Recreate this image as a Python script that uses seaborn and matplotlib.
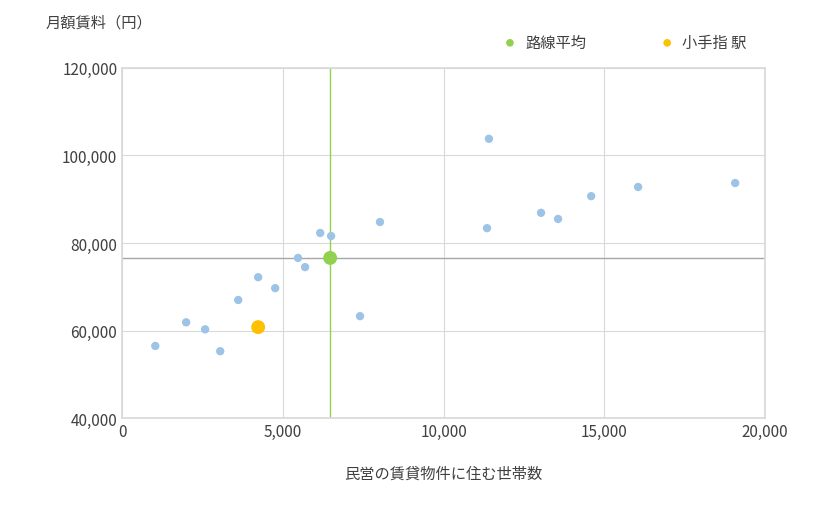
import matplotlib
matplotlib.use("Agg")
import matplotlib.pyplot as plt
import seaborn as sns
import pandas as pd

sns.set_theme(style="white")
plt.rcParams['font.family'] = ['Noto Sans CJK JP', 'DejaVu Sans']

households = [1030, 1990, 2580, 3050, 3610, 4230, 4760, 5470, 5690, 6160, 6500,
              7400, 8020, 11350, 11410, 13030, 13560, 14590, 16050, 19070]
rent = [56500, 61900, 60300, 55300, 67000, 72200, 69700, 76600, 74500, 82300, 81600,
        63300, 84800, 83400, 103800, 86900, 85500, 90700, 92800, 93700]
avg_x, avg_y = [6470], [76600]
sta_x, sta_y = [4230], [60800]

df = pd.DataFrame({"x": households, "y": rent})

fig = plt.figure(figsize=(8.2, 5.1), dpi=100)
ax = fig.add_axes([0.149, 0.178, 0.784, 0.687])
ax.axvline(avg_x[0], color="#92d050", lw=1, zorder=1)
ax.axhline(avg_y[0], color="#a6a6a6", lw=1, zorder=1)
sns.scatterplot(data=df, x="x", y="y", ax=ax, color="#9dc3e6", s=36, edgecolor="none", zorder=3)
ax.scatter(avg_x, avg_y, color="#92d050", s=100, edgecolor="none", zorder=4, label="路線平均")
ax.scatter(sta_x, sta_y, color="#ffc000", s=100, edgecolor="none", zorder=4, label="小手指 駅")

ax.set_xlim(0, 20000)
ax.set_ylim(40000, 120000)
ax.set_xticks(range(0, 20001, 5000))
ax.set_yticks(range(40000, 120001, 20000))
ax.xaxis.set_major_formatter(matplotlib.ticker.FuncFormatter(lambda v, p: f"{int(v):,}"))
ax.yaxis.set_major_formatter(matplotlib.ticker.FuncFormatter(lambda v, p: f"{int(v):,}"))
ax.grid(True, color="#d9d9d9", lw=0.8)
for s in ax.spines.values():
    s.set_color("#d9d9d9")
ax.tick_params(labelsize=11, colors="#404040", length=0)
ax.set_xlabel("民営の賃貸物件に住む世帯数", fontsize=11, color="#404040", labelpad=18)
ax.set_ylabel("")
fig.text(0.055, 0.955, "月額賃料（円）", fontsize=11, color="#404040", va="center")
fig.legend(loc="center", bbox_to_anchor=(0.757, 0.915), ncol=2, frameon=False,
           fontsize=11, markerscale=0.55, handletextpad=0.0, columnspacing=4.3,
           labelcolor="#404040")
fig.savefig("out.png", dpi=100)
